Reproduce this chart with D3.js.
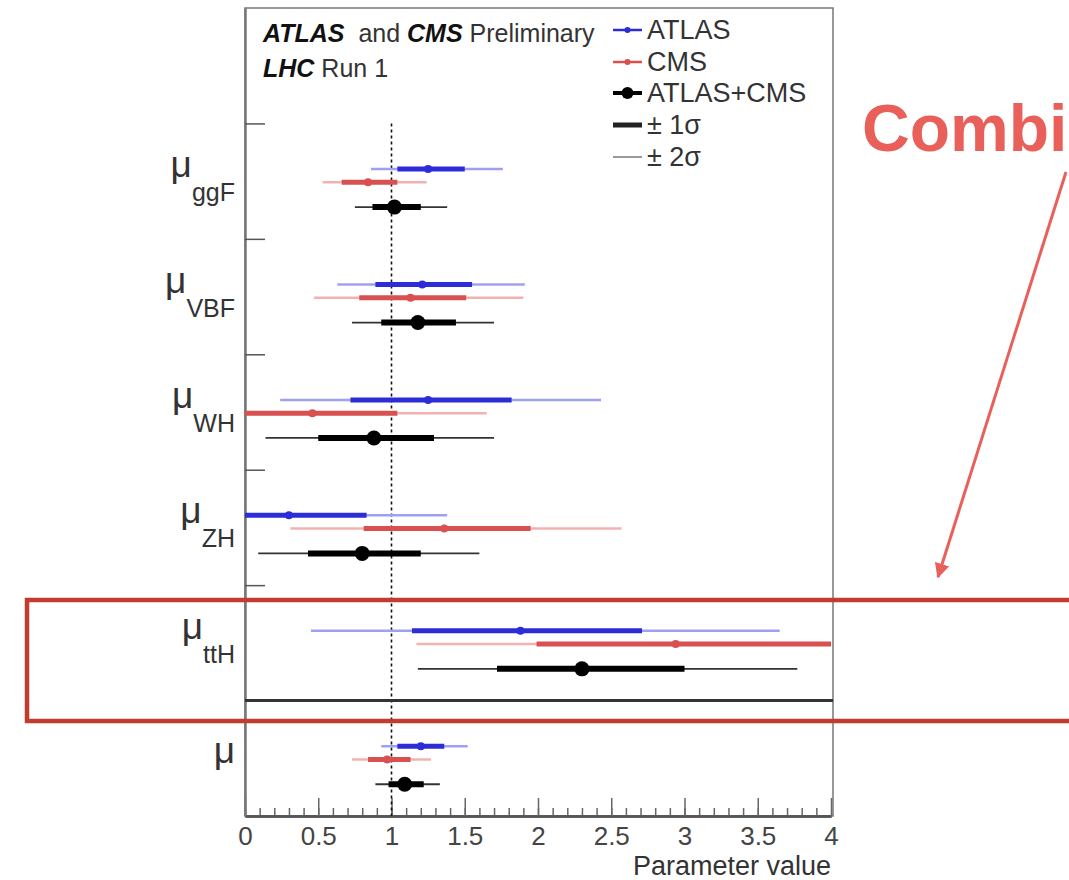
<!DOCTYPE html>
<html>
<head>
<meta charset="utf-8">
<script src="https://d3js.org/d3.v7.min.js"></script>
<style>
  body { margin: 0; background: #fff; }
  text { font-family: "Liberation Sans", Arial, sans-serif; }
</style>
</head>
<body>
<div id="chart"></div>
<script>
// parameter rows, top to bottom ("" = inclusive mu)
var params = ["ggF", "VBF", "WH", "ZH", "ttH", ""];

// ATLAS
var atlasVal = [1.25, 1.21, 1.25, 0.30, 1.88, 1.20];
var atlas1Lo = [1.04, 0.89, 0.72, -0.15, 1.14, 1.04];
var atlas1Hi = [1.50, 1.55, 1.82, 0.83, 2.71, 1.36];
var atlas2Lo = [0.86, 0.63, 0.24, -0.55, 0.45, 0.93];
var atlas2Hi = [1.76, 1.91, 2.43, 1.38, 3.65, 1.52];
// CMS
var cmsVal = [0.84, 1.13, 0.46, 1.36, 2.94, 0.97];
var cms1Lo = [0.66, 0.78, -0.10, 0.81, 1.99, 0.84];
var cms1Hi = [1.04, 1.51, 1.04, 1.95, 4.20, 1.13];
var cms2Lo = [0.53, 0.47, -0.60, 0.31, 1.17, 0.73];
var cms2Hi = [1.24, 1.90, 1.65, 2.57, 5.00, 1.27];
// ATLAS+CMS
var combVal = [1.02, 1.18, 0.88, 0.80, 2.30, 1.09];
var comb1Lo = [0.87, 0.93, 0.50, 0.43, 1.72, 0.98];
var comb1Hi = [1.20, 1.44, 1.29, 1.20, 3.00, 1.22];
var comb2Lo = [0.75, 0.73, 0.14, 0.09, 1.18, 0.89];
var comb2Hi = [1.38, 1.70, 1.70, 1.60, 3.77, 1.33];

var xTicks = [0, 0.5, 1, 1.5, 2, 2.5, 3, 3.5, 4];

var width = 1069, height = 880;
var plotL = 245, plotR = 831, plotT = 8, plotB = 816;

var svg = d3.select("#chart").append("svg")
    .attr("width", width)
    .attr("height", height);

svg.append("rect").attr("width", width).attr("height", height).attr("fill", "#fff");

var x = d3.scaleLinear().domain([0, 4]).range([plotL, plotR]).clamp(true);
// row units: 0 = legend space, 1..5 = production modes, 6 = mu
var y = d3.scaleLinear().domain([0, 7]).range([plotT, plotB]);

// frame
svg.append("rect")
    .attr("x", plotL).attr("y", plotT)
    .attr("width", plotR - plotL + 2).attr("height", plotB - plotT)
    .attr("fill", "none").attr("stroke", "#777").attr("stroke-width", 1.5);

// x axis: major + minor ticks pointing up
var xAxisMinor = d3.axisBottom(x)
    .tickValues(d3.range(0, 40).map(function(d) { return d / 10; }))
    .tickSize(-8).tickSizeOuter(0).tickFormat("");
svg.append("g").attr("class", "x minor")
    .attr("transform", "translate(0," + plotB + ")")
    .call(xAxisMinor);

var xAxis = d3.axisBottom(x)
    .tickValues(xTicks)
    .tickSize(-18).tickSizeOuter(0).tickPadding(29)
    .tickFormat(function(d) { return d3.format("")(d); });
svg.append("g").attr("class", "x major")
    .attr("transform", "translate(0," + plotB + ")")
    .call(xAxis);

svg.selectAll(".x .domain").attr("stroke", "#555").attr("stroke-width", 2.5);
svg.selectAll(".x .tick line").attr("stroke", "#666").attr("stroke-width", 1.5);
svg.selectAll(".x.major text")
    .attr("font-size", 26).attr("fill", "#444").attr("dy", 0);

svg.append("text")
    .attr("x", plotR).attr("y", 875)
    .attr("text-anchor", "end")
    .attr("font-size", 27).attr("fill", "#333")
    .text("Parameter value");

// y axis ticks at row boundaries
var yAxis = d3.axisRight(y).tickValues([1, 2, 3, 4, 5]).tickSize(20).tickSizeOuter(0).tickFormat("");
svg.append("g").attr("class", "y axis")
    .attr("transform", "translate(" + plotL + ",0)")
    .call(yAxis);
svg.selectAll(".y .domain").attr("stroke", "#777").attr("stroke-width", 2.5);
svg.selectAll(".y .tick line").attr("stroke", "#555").attr("stroke-width", 1.5);

// SM line
svg.append("line")
    .attr("x1", x(1)).attr("x2", x(1))
    .attr("y1", y(1)).attr("y2", y(7))
    .attr("stroke", "#111").attr("stroke-width", 1.6)
    .attr("stroke-dasharray", "3,3");

// separator between modes and mu
svg.append("line")
    .attr("x1", plotL).attr("x2", plotR + 2)
    .attr("y1", y(6)).attr("y2", y(6))
    .attr("stroke", "#333").attr("stroke-width", 3);

// y labels
var ylab = svg.selectAll(".ylab")
    .data(params).enter().append("text")
    .attr("class", "ylab")
    .attr("text-anchor", "end")
    .attr("fill", "#333")
    .attr("x", 235)
    .attr("y", function(d, i) { return y(i + 1.5) + (d ? -4 : 5); });
ylab.append("tspan").attr("font-size", 37).text("\u03bc");
ylab.append("tspan")
    .attr("font-size", 25).attr("dy", 24)
    .text(function(d) { return d; });

// series
var series = [
  {name: "ATLAS", val: atlasVal, lo1: atlas1Lo, hi1: atlas1Hi, lo2: atlas2Lo, hi2: atlas2Hi,
   c1: "#2c2cd9", c2: "#a0a0f2", w1: 5, w2: 2.5, r: 4, off: -0.105},
  {name: "CMS", val: cmsVal, lo1: cms1Lo, hi1: cms1Hi, lo2: cms2Lo, hi2: cms2Hi,
   c1: "#d85050", c2: "#f3b2b2", w1: 5, w2: 2.5, r: 4, off: 0.01},
  {name: "ATLAS+CMS", val: combVal, lo1: comb1Lo, hi1: comb1Hi, lo2: comb2Lo, hi2: comb2Hi,
   c1: "#000", c2: "#333", w1: 6, w2: 1.8, r: 7.5, off: 0.225}
];

series.forEach(function(s) {
  var g = svg.append("g").attr("class", "series");
  var rows = params.map(function(p, i) { return i; });
  var cy = function(i) { return y(i + 1.5 + s.off); };

  g.selectAll(".s2").data(rows).enter().append("line")
      .attr("x1", function(i) { return x(s.lo2[i]); })
      .attr("x2", function(i) { return x(s.hi2[i]); })
      .attr("y1", cy).attr("y2", cy)
      .attr("stroke", s.c2).attr("stroke-width", s.w2);

  g.selectAll(".s1").data(rows).enter().append("line")
      .attr("x1", function(i) { return x(s.lo1[i]); })
      .attr("x2", function(i) { return x(s.hi1[i]); })
      .attr("y1", cy).attr("y2", cy)
      .attr("stroke", s.c1).attr("stroke-width", s.w1);

  g.selectAll("circle").data(rows).enter().append("circle")
      .attr("cx", function(i) { return x(s.val[i]); })
      .attr("cy", cy)
      .attr("r", s.r)
      .attr("fill", s.c1);
});

// header text
var h1 = svg.append("text").attr("x", 263).attr("y", 42).attr("font-size", 25).attr("fill", "#333");
h1.append("tspan").attr("font-weight", "bold").attr("font-style", "italic").attr("fill", "#111").text("ATLAS");
h1.append("tspan").text("\u00a0 and ");
h1.append("tspan").attr("font-weight", "bold").attr("font-style", "italic").attr("fill", "#111").text("CMS");
h1.append("tspan").text(" Preliminary");

var h2 = svg.append("text").attr("x", 263).attr("y", 77).attr("font-size", 25).attr("fill", "#333");
h2.append("tspan").attr("font-weight", "bold").attr("font-style", "italic").attr("fill", "#111").text("LHC");
h2.append("tspan").text(" Run 1");

// legend
var legRows = [30, 62, 93, 125, 157];
var lx0 = 613, lx1 = 642;
var leg = svg.append("g").attr("class", "legend");
series.forEach(function(s, i) {
  leg.append("line").attr("x1", lx0).attr("x2", lx1)
      .attr("y1", legRows[i]).attr("y2", legRows[i])
      .attr("stroke", s.c1).attr("stroke-width", i === 2 ? 4 : 2.5);
  leg.append("circle").attr("cx", (lx0 + lx1) / 2).attr("cy", legRows[i])
      .attr("r", i === 2 ? 6 : 3).attr("fill", s.c1);
});
leg.append("line").attr("x1", lx0).attr("x2", lx1)
    .attr("y1", legRows[3]).attr("y2", legRows[3])
    .attr("stroke", "#222").attr("stroke-width", 5);
leg.append("line").attr("x1", lx0).attr("x2", lx1)
    .attr("y1", legRows[4]).attr("y2", legRows[4])
    .attr("stroke", "#999").attr("stroke-width", 2);
var legText = ["ATLAS", "CMS", "ATLAS+CMS", "\u00b1 1\u03c3", "\u00b1 2\u03c3"];
leg.selectAll("text").data(legText).enter().append("text")
    .attr("x", 647)
    .attr("y", function(d, i) { return legRows[i] + 9; })
    .attr("font-size", 27).attr("fill", "#333")
    .text(function(d) { return d; });

// annotation
var red = "#e9605a";
svg.append("defs").append("marker")
    .attr("id", "arrow")
    .attr("viewBox", "0 0 10 10")
    .attr("refX", 9).attr("refY", 5)
    .attr("markerWidth", 5).attr("markerHeight", 5)
    .attr("orient", "auto")
  .append("path").attr("d", "M0,0L10,5L0,10z").attr("fill", red);

svg.append("line")
    .attr("x1", 1066).attr("y1", 172)
    .attr("x2", 938).attr("y2", 577)
    .attr("stroke", red).attr("stroke-width", 3)
    .attr("marker-end", "url(#arrow)");

svg.append("text")
    .attr("x", 862).attr("y", 151)
    .attr("font-size", 66).attr("font-weight", "bold")
    .attr("fill", red)
    .text("Combined");

svg.append("rect")
    .attr("x", 27).attr("y", 600)
    .attr("width", 1100).attr("height", 121)
    .attr("fill", "none")
    .attr("stroke", "#c23b2f").attr("stroke-width", 4.5);
</script>
</body>
</html>
